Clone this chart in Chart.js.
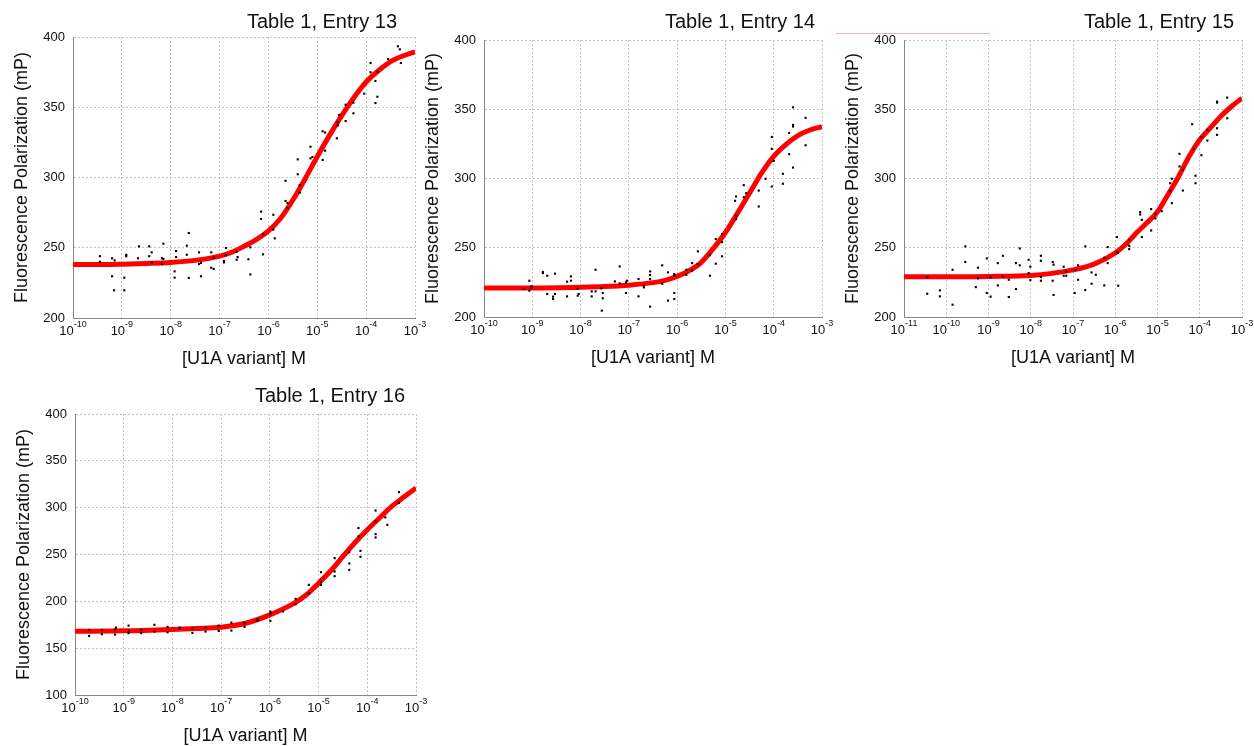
<!DOCTYPE html>
<html>
<head>
<meta charset="utf-8">
<script src="https://cdn.jsdelivr.net/npm/chart.js@4"></script>
<style>
    body { margin: 0; background: #fff; width: 1254px; height: 746px; overflow: hidden; position: relative; }
    canvas { position: absolute; }
    .stray { position: absolute; left: 836px; top: 33px; width: 154px; height: 1px; background: #f3b3b3; }
</style>
</head>
<body>
<div class="stray"></div>
<canvas id="c13"></canvas>
<canvas id="c14"></canvas>
<canvas id="c15"></canvas>
<canvas id="c16"></canvas>
<script>
// points are [log10 concentration, mP]
const entry13Points = [
    [-9.45, 244], [-9.45, 240], [-9.2, 242.5], [-9.15, 241], [-9.2, 229.7], [-9.16, 219.7],
    [-8.95, 228.7], [-8.95, 219.7], [-8.91, 245], [-8.91, 244], [-8.67, 242.5], [-8.65, 251],
    [-8.44, 251], [-8.44, 244], [-8.39, 246.7], [-8.39, 239.4], [-8.18, 242.5], [-8.15, 252.9],
    [-8.15, 242], [-8.18, 238.7], [-7.92, 233.2], [-7.92, 228.7], [-7.89, 247.7], [-7.89, 243.4],
    [-7.67, 251.5], [-7.67, 245], [-7.63, 260.5], [-7.63, 228.5], [-7.42, 246.7], [-7.42, 238.4],
    [-7.38, 239.2], [-7.38, 229.7], [-7.17, 246.7], [-7.17, 235.8], [-7.12, 234.9], [-7.12, 243],
    [-6.91, 240.6], [-6.91, 239.6], [-6.87, 249.8], [-6.87, 244.8], [-6.65, 247], [-6.65, 241.5],
    [-6.63, 243.4], [-6.41, 241.8], [-6.37, 250.3], [-6.37, 231], [-6.15, 275.7], [-6.15, 270.5],
    [-6.11, 259.6], [-6.11, 245.3], [-5.9, 273.5], [-5.9, 262.9], [-5.87, 256.7], [-5.65, 297.7],
    [-5.65, 283.3], [-5.61, 278.3], [-5.61, 281.9], [-5.4, 312.9], [-5.4, 302.3], [-5.36, 294.7],
    [-5.36, 289.2], [-5.14, 321.9], [-5.14, 313.6], [-5.1, 314.6], [-4.89, 332.9], [-4.89, 312.5],
    [-4.84, 332], [-4.84, 319.1], [-4.6, 327.9], [-4.58, 339.5], [-4.58, 337.1], [-4.55, 344.5],
    [-4.42, 351.8], [-4.42, 340.2], [-4.26, 353.3], [-4.26, 345.7], [-4.04, 359.7], [-3.91, 381.5],
    [-3.91, 374.9], [-3.81, 368.7], [-3.81, 353], [-3.77, 375.3], [-3.77, 357.5], [-3.55, 384.3],
    [-3.35, 393.4], [-3.31, 391.2], [-3.29, 381.5]
];
const entry13Fit = [
    [-10, 238], [-9.5, 238], [-9, 238.3], [-8.5, 238.8], [-8, 239.5], [-7.5, 241], [-7, 244],
    [-6.75, 246.8], [-6.5, 251], [-6.25, 255.8], [-6, 262], [-5.75, 271], [-5.5, 284], [-5.25, 299],
    [-5, 315], [-4.75, 330], [-4.5, 344], [-4.25, 357], [-4, 368], [-3.75, 376], [-3.5, 382.5],
    [-3.25, 386.5], [-3, 389.5]
];

const entry14Points = [
    [-9.18, 220.4], [-9.06, 226.2], [-9.06, 219], [-9.02, 222.1], [-9.02, 221], [-8.78, 232.5],
    [-8.78, 231.7], [-8.69, 229.8], [-8.69, 216.6], [-8.57, 214.7], [-8.57, 213], [-8.53, 216.6],
    [-8.53, 231.3], [-8.28, 225.5], [-8.28, 214.9], [-8.2, 229.3], [-8.2, 226.2], [-8.06, 220.4],
    [-8.06, 215.4], [-8.04, 216.6], [-7.77, 218.5], [-7.77, 214.9], [-7.69, 234.1], [-7.69, 218.5],
    [-7.57, 220.7], [-7.56, 204.6], [-7.54, 217.3], [-7.54, 213.5], [-7.29, 225.7], [-7.19, 236.5],
    [-7.19, 224.3], [-7.06, 225], [-7.06, 217.3], [-7.04, 226.2], [-6.8, 227.4], [-6.8, 214.9],
    [-6.69, 222.6], [-6.69, 221.4], [-6.56, 232.9], [-6.56, 230.3], [-6.56, 227.4], [-6.56, 207.5],
    [-6.31, 237.3], [-6.31, 224], [-6.19, 232.2], [-6.19, 211.8], [-6.06, 231], [-6.06, 229.8],
    [-6.06, 217.3], [-6.06, 213], [-5.81, 230.5], [-5.81, 234.1], [-5.69, 238.9], [-5.69, 233.4],
    [-5.57, 247.4], [-5.57, 238.2], [-5.32, 244.7], [-5.32, 229.8], [-5.2, 256.3], [-5.2, 238.5],
    [-5.07, 259.9], [-5.07, 254.1], [-5.07, 243.8], [-4.8, 283.9], [-4.78, 287], [-4.78, 270.7],
    [-4.78, 273.1], [-4.62, 295.2], [-4.62, 286.5], [-4.57, 289.4], [-4.31, 291.3], [-4.31, 279.8],
    [-4.17, 299.8], [-4.04, 330], [-4.04, 321.4], [-4.04, 294.2], [-4, 312.7], [-3.81, 303.4],
    [-3.81, 296.2], [-3.68, 332.9], [-3.68, 317.5], [-3.6, 351.4], [-3.6, 338.7], [-3.6, 337.5],
    [-3.6, 307.9], [-3.34, 343.8], [-3.34, 324]
];
const entry14Fit = [
    [-10, 221], [-9, 221], [-8, 221.5], [-7.5, 222], [-7, 223], [-6.5, 224.8], [-6.25, 226.5],
    [-6, 229.3], [-5.75, 233.5], [-5.5, 239.5], [-5.25, 249.5], [-5, 261], [-4.75, 275],
    [-4.5, 289.5], [-4.25, 304], [-4, 316], [-3.75, 324.5], [-3.5, 331], [-3.25, 335], [-3, 337.5]
];

const entry15Points = [
    [-10.45, 228.8], [-10.45, 216.8], [-10.15, 219.2], [-10.15, 214.9], [-9.85, 234.1], [-9.85, 208.9],
    [-9.55, 251], [-9.55, 239.7], [-9.3, 221.6], [-9.25, 235.6], [-9.25, 227.9], [-9.04, 242.3],
    [-9.04, 217.3], [-8.95, 228.8], [-8.95, 214.7], [-8.78, 238.9], [-8.78, 222.8], [-8.66, 244.2],
    [-8.66, 229.3], [-8.52, 226.9], [-8.52, 214.4], [-8.35, 238.9], [-8.35, 220.2], [-8.26, 249.5],
    [-8.26, 237.3], [-8.05, 241.3], [-8.05, 231.7], [-8.01, 236.3], [-8.01, 226.6], [-7.76, 244.2],
    [-7.76, 240.6], [-7.76, 228.8], [-7.76, 226.2], [-7.48, 239.7], [-7.48, 226.2], [-7.46, 237.8],
    [-7.46, 215.9], [-7.22, 236.3], [-7.22, 229.8], [-7.16, 232.9], [-7.16, 229.8], [-6.96, 217.3],
    [-6.94, 234.1], [-6.88, 237.3], [-6.88, 226.9], [-6.71, 251], [-6.71, 219.5], [-6.56, 232.2],
    [-6.56, 224], [-6.46, 230.5], [-6.26, 242.8], [-6.26, 222.8], [-6.18, 250.5], [-6.18, 238.9],
    [-5.96, 257.7], [-5.96, 246.9], [-5.94, 246.2], [-5.93, 222.6], [-5.67, 255.8], [-5.67, 251.4],
    [-5.67, 249], [-5.41, 275.7], [-5.41, 274], [-5.37, 270.2], [-5.37, 257.7], [-5.15, 277.9],
    [-5.15, 262.5], [-5.05, 274.5], [-5.05, 271.2], [-4.9, 276.4], [-4.7, 296.6], [-4.7, 290.9],
    [-4.66, 299.8], [-4.66, 282.2], [-4.48, 317.8], [-4.48, 308.7], [-4.4, 306.3], [-4.4, 291.3],
    [-4.18, 339.2], [-4.14, 321.4], [-4.1, 302], [-4.1, 296.6], [-3.96, 329.8], [-3.96, 316.8],
    [-3.82, 335.1], [-3.82, 327.4], [-3.59, 355.5], [-3.59, 354.8], [-3.59, 336.3], [-3.59, 331.5],
    [-3.35, 358.4], [-3.35, 343.5]
];
const entry15Fit = [
    [-11, 229], [-10, 229], [-9, 229.3], [-8, 230], [-7.5, 231.5], [-7, 234], [-6.5, 238.2],
    [-6, 246.2], [-5.75, 252.5], [-5.5, 260.6], [-5.25, 268], [-5, 276], [-4.75, 288.5],
    [-4.5, 301.5], [-4.25, 316], [-4, 328], [-3.75, 336.5], [-3.5, 345], [-3.25, 352], [-3, 358]
];

const entry16Points = [
    [-9.71, 169.5], [-9.71, 163.1], [-9.45, 169.5], [-9.45, 164.9], [-9.18, 169.9], [-9.18, 164.5],
    [-9.16, 172], [-8.9, 174.1], [-8.9, 167.7], [-8.9, 166], [-8.64, 169.5], [-8.64, 166],
    [-8.37, 174.9], [-8.37, 167.7], [-8.1, 172.7], [-8.1, 167], [-7.85, 172], [-7.85, 170.6],
    [-7.59, 171.3], [-7.59, 166.3], [-7.32, 172], [-7.32, 167.7], [-7.05, 174.1], [-7.05, 168.4],
    [-6.79, 177.3], [-6.79, 168.8], [-6.52, 176.6], [-6.52, 172.7], [-6.25, 180.9], [-6.25, 179.5],
    [-5.99, 189.1], [-5.99, 186.3], [-5.99, 179.2], [-5.73, 189.1], [-5.47, 202.6], [-5.47, 196.9],
    [-5.2, 217.6], [-5.2, 208.7], [-4.95, 231.1], [-4.95, 220.5], [-4.95, 217.6], [-4.67, 246.1],
    [-4.67, 231.9], [-4.67, 226.9], [-4.37, 252.5], [-4.37, 240.4], [-4.37, 233.6], [-4.18, 278.2],
    [-4.18, 269.3], [-4.14, 253.9], [-4.14, 247.5], [-3.83, 297], [-3.83, 285.3], [-3.83, 271.8],
    [-3.83, 268.2], [-3.63, 289.6], [-3.59, 281.7], [-3.35, 316.6], [-3.35, 305.2]
];
const entry16Fit = [
    [-10, 168], [-9, 168.5], [-8, 170], [-7.5, 171], [-7, 172.4], [-6.5, 176.6], [-6, 185.5],
    [-5.5, 198], [-5.25, 207], [-5, 219.4], [-4.75, 232.6], [-4.5, 247.9], [-4.25, 262.8],
    [-4, 276.4], [-3.75, 288.9], [-3.5, 301.3], [-3.25, 311.3], [-3, 321]
];

const FONT = '"Liberation Sans", Arial, sans-serif';

// chart area in page pixels, plus where each title sits
const panels = [
    { id: "c13", title: "Table 1, Entry 13", points: entry13Points, fit: entry13Fit,
      left: 73, top: 37, right: 415, bottom: 318, xMin: -10, yMin: 200, titleRight: 397, titleBase: 28 },
    { id: "c14", title: "Table 1, Entry 14", points: entry14Points, fit: entry14Fit,
      left: 484, top: 40, right: 822, bottom: 317, xMin: -10, yMin: 200, titleRight: 815, titleBase: 28 },
    { id: "c15", title: "Table 1, Entry 15", points: entry15Points, fit: entry15Fit,
      left: 904, top: 40, right: 1242, bottom: 317, xMin: -11, yMin: 200, titleRight: 1234, titleBase: 28 },
    { id: "c16", title: "Table 1, Entry 16", points: entry16Points, fit: entry16Fit,
      left: 75, top: 414, right: 416, bottom: 695, xMin: -10, yMin: 100, titleRight: 405, titleBase: 402 }
];

const toXY = arr => arr.map(p => ({ x: Math.pow(10, p[0]), y: p[1] }));

const panelText = {
    id: "panelText",
    afterDraw(chart, args, opts) {
        const ctx = chart.ctx;
        const xs = chart.scales.x;
        const area = chart.chartArea;
        ctx.save();
        ctx.fillStyle = "#111";
        ctx.textBaseline = "alphabetic";
        ctx.textAlign = "left";
        xs.ticks.forEach(t => {
            const px = xs.getPixelForValue(t.value);
            const exp = String(Math.round(Math.log10(t.value)));
            ctx.font = "13px " + FONT;
            const w1 = ctx.measureText("10").width;
            ctx.font = "9px " + FONT;
            const w2 = ctx.measureText(exp).width;
            const x0 = px - (w1 + w2) / 2;
            ctx.font = "13px " + FONT;
            ctx.fillText("10", x0, area.bottom + 17);
            ctx.font = "9px " + FONT;
            ctx.fillText(exp, x0 + w1, area.bottom + 9);
        });
        ctx.font = "20px " + FONT;
        ctx.textAlign = "right";
        ctx.fillText(opts.title, opts.titleRight, opts.titleBase);
        ctx.restore();
    }
};

panels.forEach(p => {
    const canvas = document.getElementById(p.id);
    const cLeft = p.left - 73;
    const cTop = p.top - 40;
    canvas.width = p.right - p.left + 73 + 18;
    canvas.height = p.bottom - p.top + 40 + 55;
    canvas.style.left = cLeft + "px";
    canvas.style.top = cTop + "px";

    const decades = [];
    for (let e = p.xMin; e <= -3; e++) decades.push(Math.pow(10, e));

    new Chart(canvas, {
        type: "scatter",
        data: {
            datasets: [
                {
                    data: toXY(p.points),
                    backgroundColor: "#000",
                    borderWidth: 0,
                    pointStyle: "rect",
                    pointRadius: 1.5,
                    order: 0
                },
                {
                    data: toXY(p.fit),
                    showLine: true,
                    borderColor: "#ff0000",
                    borderWidth: 5,
                    pointRadius: 0,
                    cubicInterpolationMode: "monotone",
                    order: 1
                }
            ]
        },
        options: {
            responsive: false,
            animation: false,
            devicePixelRatio: 1,
            layout: { padding: { left: 0, top: 40, right: 18, bottom: 0 } },
            plugins: {
                legend: { display: false },
                tooltip: { enabled: false },
                panelText: {
                    title: p.title,
                    titleRight: p.titleRight - cLeft,
                    titleBase: p.titleBase - cTop
                }
            },
            scales: {
                x: {
                    type: "logarithmic",
                    min: Math.pow(10, p.xMin),
                    max: 1e-3,
                    afterBuildTicks: scale => { scale.ticks = decades.map(v => ({ value: v })); },
                    afterFit: scale => { scale.height = 55; },
                    ticks: { display: false },
                    grid: { color: "#c4c4c4", drawTicks: false },
                    border: { color: "#888", dash: [2, 2] },
                    title: {
                        display: true,
                        text: "[U1A variant] M",
                        color: "#111",
                        font: { family: FONT, size: 18 },
                        padding: { top: 0, bottom: 3 }
                    }
                },
                y: {
                    min: p.yMin,
                    max: 400,
                    afterFit: scale => { scale.width = 73; },
                    ticks: { stepSize: 50, padding: 8, color: "#111", font: { family: FONT, size: 13 } },
                    grid: { color: "#c4c4c4", drawTicks: false },
                    border: { color: "#888", dash: [2, 2] },
                    title: {
                        display: true,
                        text: "Fluorescence Polarization (mP)",
                        color: "#111",
                        font: { family: FONT, size: 18 },
                        padding: { top: 11, bottom: 0 }
                    }
                }
            }
        },
        plugins: [panelText]
    });
});
</script>
</body>
</html>
